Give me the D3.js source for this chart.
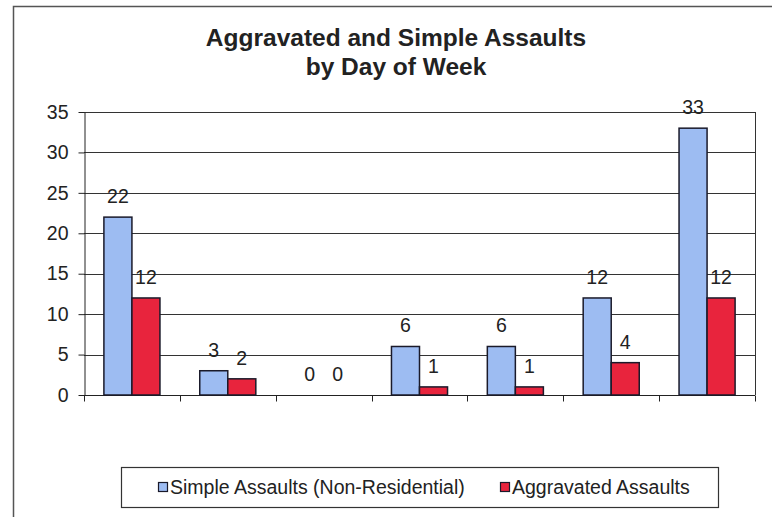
<!DOCTYPE html>
<html>
<head>
<meta charset="utf-8">
<script src="https://cdn.jsdelivr.net/npm/d3@7"></script>
<style>
  html, body { margin: 0; padding: 0; background: #fff; }
  svg { display: block; font-family: "Liberation Sans", Arial, sans-serif; }
</style>
</head>
<body>
<svg id="chart" width="772" height="517"></svg>
<script>
// Assault counts by day of week
const days = ["Sunday", "Monday", "Tuesday", "Wednesday", "Thursday", "Friday", "Saturday"];
const simpleAssaults = [22, 3, 0, 6, 6, 12, 33];
const aggravatedAssaults = [12, 2, 0, 1, 1, 4, 12];
const seriesNames = ["Simple Assaults (Non-Residential)", "Aggravated Assaults"];
const seriesColors = ["#9dbcf2", "#e8243d"];
const yTicks = [0, 5, 10, 15, 20, 25, 30, 35];
const titleLines = ["Aggravated and Simple Assaults", "by Day of Week"];

const svg = d3.select("#chart");
const plot = { left: 84, right: 755, top: 112, bottom: 395 };

// outer frame (runs off the right and bottom edges)
svg.append("rect")
  .attr("x", 13.5).attr("y", 6.5)
  .attr("width", 900).attr("height", 700)
  .attr("fill", "none").attr("stroke", "#555").attr("stroke-width", 1.5);

// title
svg.append("text")
  .attr("text-anchor", "middle")
  .attr("font-size", 24.5).attr("font-weight", "bold").attr("fill", "#222")
  .selectAll("tspan").data(titleLines).join("tspan")
  .attr("x", 396).attr("y", (d, i) => 46 + i * 29)
  .text(d => d);

const x = d3.scaleBand().domain(days).range([plot.left, plot.right]).paddingInner(0).paddingOuter(0);
const x1 = d3.scaleBand().domain([0, 1]).range([0, x.bandwidth()]).paddingInner(0).paddingOuter(0.71);
const y = d3.scaleLinear().domain([0, 35]).range([plot.bottom, plot.top]);

// gridlines
svg.append("g")
  .selectAll("line").data(yTicks.filter(t => t > 0)).join("line")
  .attr("x1", plot.left).attr("x2", plot.right)
  .attr("y1", d => Math.round(y(d)) + 0.5).attr("y2", d => Math.round(y(d)) + 0.5)
  .attr("stroke", "#333").attr("stroke-width", 1);

// right border of plot area
svg.append("line")
  .attr("x1", plot.right + 0.5).attr("x2", plot.right + 0.5)
  .attr("y1", plot.top).attr("y2", plot.bottom)
  .attr("stroke", "#333");

// y axis
const yAxis = svg.append("g")
  .attr("transform", `translate(${plot.left + 0.5},0)`)
  .call(d3.axisLeft(y).tickValues(yTicks).tickSize(6).tickSizeOuter(0).tickPadding(10));
yAxis.select(".domain").attr("stroke", "#222");
yAxis.selectAll(".tick line").attr("stroke", "#222");
yAxis.selectAll(".tick text")
  .attr("font-family", "Liberation Sans, Arial, sans-serif")
  .attr("font-size", 19.5).attr("fill", "#222");

// x axis: category ticks between groups, no labels
const xAxisG = svg.append("g")
  .attr("transform", `translate(0,${Math.round(y(0)) + 0.5})`);
xAxisG.append("line")
  .attr("x1", plot.left).attr("x2", plot.right)
  .attr("stroke", "#222");
const boundaries = days.map(d => x(d)).concat([x(days[days.length - 1]) + x.bandwidth()]);
xAxisG.selectAll("line.tk").data(boundaries).join("line")
  .attr("class", "tk")
  .attr("x1", d => Math.round(d) + 0.5).attr("x2", d => Math.round(d) + 0.5)
  .attr("y1", 0).attr("y2", 6)
  .attr("stroke", "#222");

// bars
const series = [simpleAssaults, aggravatedAssaults];
const groups = svg.append("g").selectAll("g").data(days).join("g")
  .attr("transform", d => `translate(${x(d)},0)`);

groups.selectAll("rect")
  .data((d, i) => series.map((s, k) => ({ k, v: s[i] })))
  .join("rect")
  .attr("x", d => x1(d.k))
  .attr("width", x1.bandwidth())
  .attr("y", d => y(d.v))
  .attr("height", d => y(0) - y(d.v))
  .attr("fill", d => seriesColors[d.k])
  .attr("stroke", "#1a1a2a").attr("stroke-width", 1.5)
  .attr("display", d => d.v === 0 ? "none" : null);

// value labels
groups.selectAll("text")
  .data((d, i) => series.map((s, k) => ({ k, v: s[i] })))
  .join("text")
  .attr("x", d => x1(d.k) + x1.bandwidth() / 2)
  .attr("y", d => y(d.v) - 14)
  .attr("text-anchor", "middle")
  .attr("font-size", 19.5).attr("fill", "#222")
  .text(d => d.v);

// legend
const legend = svg.append("g");
legend.append("rect")
  .attr("x", 121.5).attr("y", 467.5).attr("width", 597).attr("height", 40)
  .attr("fill", "#fff").attr("stroke", "#333").attr("stroke-width", 1.2);
const legendX = [158, 500];
const items = legend.selectAll("g.item").data(seriesNames).join("g")
  .attr("class", "item")
  .attr("transform", (d, i) => `translate(${legendX[i]},487)`);
items.append("rect")
  .attr("x", 0.5).attr("y", -4.5).attr("width", 9).attr("height", 9)
  .attr("fill", (d, i) => seriesColors[i])
  .attr("stroke", "#1a1a2a").attr("stroke-width", 1.2);
items.append("text")
  .attr("x", 12).attr("y", 7)
  .attr("font-size", 19.5).attr("fill", "#222")
  .text(d => d);
</script>
</body>
</html>
